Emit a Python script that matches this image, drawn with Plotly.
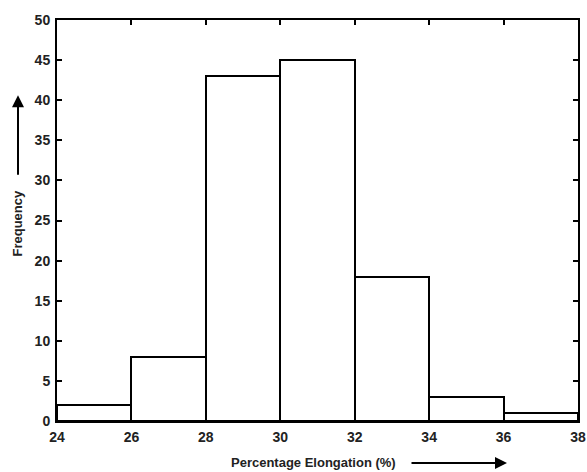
import plotly.graph_objects as go

bin_edges = [24, 26, 28, 30, 32, 34, 36, 38]
frequency = [2, 8, 43, 45, 18, 3, 1]
x_ticks = [24, 26, 28, 30, 32, 34, 36, 38]
y_ticks = [0, 5, 10, 15, 20, 25, 30, 35, 40, 45, 50]

centers = [(bin_edges[i] + bin_edges[i + 1]) / 2 for i in range(len(frequency))]
widths = [bin_edges[i + 1] - bin_edges[i] for i in range(len(frequency))]

FONT = "Liberation Sans Narrow, Arial Narrow, Liberation Sans, Arial, sans-serif"

fig = go.Figure(go.Bar(
    x=centers, y=frequency, width=widths,
    marker=dict(color="white", line=dict(color="black", width=2)),
))

axis_common = dict(
    showline=True, linecolor="black", linewidth=2, mirror="ticks",
    ticks="inside", ticklen=5, tickwidth=2, tickcolor="black",
    showgrid=False, zeroline=False, automargin=False,
    tickfont=dict(family=FONT, size=14, color="#222", weight="bold"),
)
fig.update_xaxes(range=[24, 38], tickvals=x_ticks, ticklabelstandoff=2, **axis_common)
fig.update_yaxes(range=[0, 50], tickvals=y_ticks, ticklabelstandoff=2, **axis_common)

fig.update_layout(
    width=587, height=472,
    margin=dict(l=57, r=9, t=20, b=51),
    paper_bgcolor="white", plot_bgcolor="white",
    showlegend=False, bargap=0,
    font=dict(family=FONT, size=13, color="#222"),
    annotations=[
        dict(text="<b>Frequency</b>", xref="paper", yref="paper",
             x=(18 - 57) / 521, y=(420 - 223) / 400, xanchor="center", yanchor="middle",
             textangle=-90, showarrow=False, font=dict(family=FONT, size=13)),
        dict(text="<b>Percentage Elongation (%)</b>", xref="paper", yref="paper",
             x=(313 - 57) / 521, y=-(461 - 420) / 400, xanchor="center", yanchor="middle",
             showarrow=False, font=dict(family=FONT, size=13)),
        dict(text="", xref="paper", yref="paper",
             x=(18 - 57) / 521, y=(420 - 95) / 400,
             ax=0, ay=81, axref="pixel", ayref="pixel",
             showarrow=True, arrowhead=2, arrowsize=1.2, arrowwidth=2, arrowcolor="black"),
        dict(text="", xref="paper", yref="paper",
             x=(507 - 57) / 521, y=-(462 - 420) / 400,
             ax=-97, ay=0, axref="pixel", ayref="pixel",
             showarrow=True, arrowhead=2, arrowsize=1.2, arrowwidth=2, arrowcolor="black"),
    ],
)

fig.write_html(
    "out.html",
    config={"displayModeBar": False},
    post_script="document.body.style.margin='0';document.body.style.overflow='hidden';",
)
